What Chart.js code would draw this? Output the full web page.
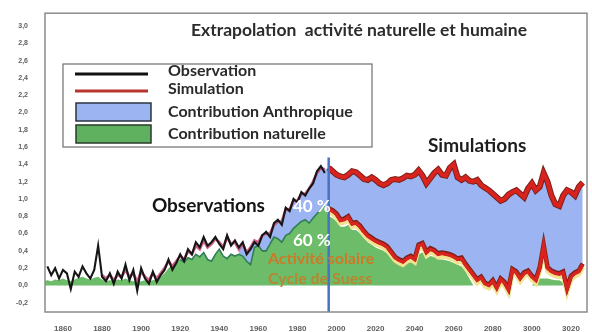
<!DOCTYPE html>
<html lang="fr">
<head>
<meta charset="utf-8">
<title>Extrapolation activité naturelle et humaine</title>
<script src="https://cdn.jsdelivr.net/npm/chart.js@4.4.0/dist/chart.umd.min.js"></script>
<style>
  html, body { margin: 0; padding: 0; background: #fff; }
  #wrap { width: 592px; height: 332px; }
</style>
</head>
<body>
<div id="wrap"><canvas id="climat"></canvas></div>
<script>
// Observations (anomalie de température)
const obsAnnees = [1852, 1854, 1856, 1858, 1860, 1862, 1864, 1866, 1868, 1870,
  1872, 1874, 1876, 1878, 1880, 1882, 1884, 1886, 1888, 1890,
  1892, 1894, 1896, 1898, 1900, 1902, 1904, 1906, 1908, 1910,
  1912, 1914, 1916, 1918, 1920, 1922, 1924, 1926, 1928, 1930,
  1932, 1934, 1936, 1938, 1940, 1942, 1944, 1946, 1948, 1950,
  1952, 1954, 1956, 1958, 1960, 1962, 1964, 1966, 1968, 1970,
  1972, 1974, 1976, 1978, 1980, 1982, 1984, 1986, 1988, 1990,
  1992, 1994]
const obsValeurs = [0.22, 0.12, 0.20, 0.08, 0.18, 0.14, -0.04, 0.16, 0.10, 0.22,
  0.14, 0.08, 0.18, 0.46, 0.10, 0.05, 0.14, 0.02, 0.16, 0.08,
  0.24, 0.06, 0.18, -0.06, 0.20, 0.08, 0.02, 0.16, 0.04, 0.12,
  0.18, 0.30, 0.18, 0.26, 0.36, 0.28, 0.42, 0.36, 0.50, 0.44,
  0.56, 0.46, 0.50, 0.56, 0.48, 0.42, 0.58, 0.46, 0.52, 0.44,
  0.50, 0.36, 0.42, 0.50, 0.46, 0.58, 0.62, 0.56, 0.72, 0.76,
  0.70, 0.90, 0.86, 1.00, 0.96, 1.08, 1.04, 1.12, 1.18, 1.32,
  1.38, 1.30]

// Contribution naturelle sur la période observée
const natAnnees = [1850, 1852, 1854, 1856, 1858, 1860, 1862, 1864, 1866, 1868,
  1870, 1872, 1874, 1876, 1878, 1880, 1882, 1884, 1886, 1888,
  1890, 1892, 1894, 1896, 1898, 1900, 1902, 1904, 1906, 1908,
  1910, 1912, 1914, 1916, 1918, 1920, 1922, 1924, 1926, 1928,
  1930, 1932, 1934, 1936, 1938, 1940, 1942, 1944, 1946, 1948,
  1950, 1952, 1954, 1956, 1958, 1960, 1962, 1964, 1966, 1968,
  1970, 1972, 1974, 1976, 1978, 1980, 1982, 1984, 1986, 1988,
  1990, 1992, 1994]
const natValeurs = [0.05, 0.06, 0.05, 0.07, 0.06, 0.08, 0.06, 0.05, 0.07, 0.09,
  0.10, 0.08, 0.07, 0.09, 0.10, 0.07, 0.05, 0.06, 0.05, 0.07,
  0.06, 0.08, 0.06, 0.05, 0.04, 0.05, 0.06, 0.05, 0.06, 0.07,
  0.10, 0.14, 0.20, 0.24, 0.28, 0.30, 0.27, 0.32, 0.30, 0.36,
  0.33, 0.38, 0.30, 0.28, 0.36, 0.42, 0.34, 0.31, 0.36, 0.34,
  0.36, 0.34, 0.28, 0.24, 0.44, 0.46, 0.40, 0.40, 0.48, 0.56,
  0.54, 0.50, 0.58, 0.60, 0.66, 0.70, 0.74, 0.76, 0.72, 0.78,
  0.83, 0.88, 0.92]

// Simulation rétrospective (naturel + anthropique)
const simAnnees = [1880, 1882, 1884, 1886, 1888, 1890, 1892, 1894, 1896, 1898,
  1900, 1902, 1904, 1906, 1908, 1910, 1912, 1914, 1916, 1918,
  1920, 1922, 1924, 1926, 1928, 1930, 1932, 1934, 1936, 1938,
  1940, 1942, 1944, 1946, 1948, 1950, 1952, 1954, 1956, 1958,
  1960, 1962, 1964, 1966, 1968, 1970, 1972, 1974, 1976, 1978,
  1980, 1982, 1984, 1986, 1988, 1990, 1992, 1994]
const simValeurs = [0.12, 0.08, 0.12, 0.06, 0.12, 0.10, 0.18, 0.10, 0.14, 0.04,
  0.16, 0.10, 0.06, 0.14, 0.08, 0.14, 0.20, 0.28, 0.22, 0.28,
  0.34, 0.30, 0.40, 0.36, 0.46, 0.42, 0.52, 0.44, 0.48, 0.54,
  0.50, 0.44, 0.56, 0.48, 0.50, 0.42, 0.48, 0.38, 0.44, 0.52,
  0.50, 0.58, 0.60, 0.60, 0.70, 0.74, 0.74, 0.88, 0.88, 0.98,
  0.98, 1.06, 1.06, 1.12, 1.20, 1.30, 1.36, 1.34]

// Projections : total simulé, part naturelle simulée, aire verte
const projAnnees = [1996, 1998, 2000, 2002, 2004, 2006, 2008, 2010, 2012, 2014,
  2016, 2018, 2020, 2022, 2024, 2026, 2028, 2030, 2032, 2034,
  2036, 2038, 2040, 2042, 2044, 2046, 2048, 2050, 2052, 2054,
  2056, 2058, 2060, 2062, 2064, 2066, 2068, 2070, 2072, 2074,
  2076, 2078, 2080, 2082, 2084, 2086, 2088, 2090, 2092, 2094,
  2096, 2098, 2100, 2102, 2104, 2106, 2108, 2110, 2112, 2114,
  2116, 2118, 2120, 2122, 2124, 2126]
const projTotal = [1.36, 1.32, 1.28, 1.26, 1.25, 1.28, 1.32, 1.31, 1.27, 1.23,
  1.22, 1.25, 1.22, 1.18, 1.16, 1.18, 1.22, 1.23, 1.22, 1.24,
  1.27, 1.26, 1.28, 1.33, 1.27, 1.18, 1.24, 1.30, 1.34, 1.28,
  1.27, 1.36, 1.40, 1.25, 1.22, 1.25, 1.21, 1.20, 1.22, 1.16,
  1.13, 1.10, 1.06, 1.02, 0.98, 1.00, 1.05, 1.08, 1.10, 1.06,
  1.02, 1.12, 1.18, 1.10, 1.14, 1.30, 1.20, 1.04, 0.94, 0.92,
  1.04, 1.10, 1.08, 1.04, 1.14, 1.19]
const projNaturel = [0.88, 0.86, 0.82, 0.75, 0.76, 0.79, 0.71, 0.72, 0.68, 0.62,
  0.57, 0.54, 0.51, 0.49, 0.47, 0.44, 0.38, 0.32, 0.29, 0.27,
  0.31, 0.33, 0.30, 0.46, 0.48, 0.38, 0.42, 0.40, 0.36, 0.37,
  0.36, 0.35, 0.33, 0.30, 0.31, 0.24, 0.18, 0.12, 0.06, 0.09,
  0.02, 0.00, 0.05, -0.03, 0.07, 0.03, -0.05, 0.18, 0.15, 0.08,
  0.14, 0.16, 0.10, 0.06, 0.20, 0.46, 0.20, 0.16, 0.14, 0.13,
  0.15, -0.04, 0.10, 0.14, 0.16, 0.24]
const projVert = [0.80, 0.78, 0.74, 0.68, 0.68, 0.70, 0.64, 0.64, 0.60, 0.55,
  0.50, 0.47, 0.44, 0.42, 0.40, 0.37, 0.32, 0.27, 0.24, 0.22,
  0.25, 0.27, 0.25, 0.36, 0.38, 0.31, 0.34, 0.33, 0.30, 0.30,
  0.29, 0.28, 0.26, 0.24, 0.22, 0.16, 0.08, 0, 0, 0,
  0, 0, 0, 0, 0, 0, 0, 0, 0, 0,
  0, 0, 0, 0.04, 0.08, 0.08, 0.08, 0.07, 0.06, 0.06,
  0.03, 0, 0, 0, 0, 0]

// Séparation observations / simulations
const separationAnnees = [1996, 1996]
const separationValeurs = [-0.31, 1.48]

// Axes
const xTicks = [1860, 1880, 1900, 1920, 1940, 1960, 1980, 2000, 2020, 2040, 2060, 2080, 2100, 2120]
const xLabels = ['1860', '1880', '1900', '1920', '1940', '1960', '1980', '2000', '2020', '2040', '2060', '2080', '3000', '3020']
const yTicks = [-0.2, 0, 0.2, 0.4, 0.6, 0.8, 1.0, 1.2, 1.4, 1.6, 1.8, 2.0, 2.2, 2.4, 2.6, 2.8, 3.0]

const DEBUT_BLEU = natAnnees.indexOf(1950)
const DEBUT_BLEU_SIM = simAnnees.indexOf(1950)
const DEBUT_LIGNE_VERTE = natAnnees.indexOf(1920)

function points(xs, ys) {
  return xs.map((x, i) => ({ x: x, y: ys[i] }))
}

const VERT = '#6dbc6a'
const BLEU = '#9db4f3'
const ROUGE = '#d9231e'
const BORDEAUX = '#7a2219'

// décale le tracé d'un dataset de quelques pixels (liserés)
const decalage = {
  id: 'decalage',
  beforeDatasetDraw(chart, args) {
    const d = chart.data.datasets[args.index].decalage
    if (d) {
      chart.ctx.save()
      chart.ctx.translate(0, d)
    }
  },
  afterDatasetDraw(chart, args) {
    if (chart.data.datasets[args.index].decalage) chart.ctx.restore()
  }
}

function texte(ctx, str, x, y, font, color, align) {
  ctx.font = font
  ctx.fillStyle = color
  ctx.textAlign = align || 'left'
  ctx.textBaseline = 'middle'
  ctx.fillText(str, x, y)
}

// cadre, titre, légende et annotations
const habillage = {
  id: 'habillage',
  afterDatasetsDraw(chart) {
    const { ctx, chartArea: a, scales: { x, y } } = chart
    ctx.save()

    ctx.strokeStyle = '#8c8c8c'
    ctx.lineWidth = 1.5
    ctx.strokeRect(a.left, a.top, a.right - a.left, a.bottom - a.top)

    texte(ctx, 'Observations', x.getPixelForValue(1905.5), y.getPixelForValue(0.92), 'bold 19px Lato', '#141414')
    texte(ctx, 'Simulations', x.getPixelForValue(2046.8), y.getPixelForValue(1.61), 'bold 19px Lato', '#1e1e1e')
    texte(ctx, '40 %', x.getPixelForValue(1987.4), y.getPixelForValue(0.91), 'bold 17px Lato', '#ffffff', 'center')
    texte(ctx, '60 %', x.getPixelForValue(1987.4), y.getPixelForValue(0.52), 'bold 17px Lato', '#ffffff', 'center')
    texte(ctx, 'Activité solaire', x.getPixelForValue(1964.9), y.getPixelForValue(0.31), 'bold 16px Lato', '#cc7a26')
    texte(ctx, 'Cycle de Suess', x.getPixelForValue(1964.9), y.getPixelForValue(0.08), 'bold 16px Lato', '#b8862e')

    texte(ctx, 'Extrapolation  activité naturelle et humaine', 359, 30, 'bold 17.5px Lato', '#2c2c2c', 'center')

    // légende
    ctx.fillStyle = '#ffffff'
    ctx.fillRect(63, 64, 309, 83)
    ctx.strokeStyle = '#6e6e6e'
    ctx.lineWidth = 1.2
    ctx.strokeRect(63, 64, 309, 83)

    ctx.lineWidth = 3
    ctx.strokeStyle = '#111111'
    ctx.beginPath(); ctx.moveTo(75, 74); ctx.lineTo(148, 74); ctx.stroke()
    ctx.strokeStyle = '#b8342e'
    ctx.beginPath(); ctx.moveTo(75, 91); ctx.lineTo(148, 91); ctx.stroke()

    ctx.lineWidth = 1.5
    ctx.strokeStyle = '#2b3440'
    ctx.fillStyle = BLEU
    ctx.fillRect(76, 103, 75, 18); ctx.strokeRect(76, 103, 75, 18)
    ctx.fillStyle = '#5fb160'
    ctx.strokeStyle = '#2b3a2b'
    ctx.fillRect(76, 125, 75, 18); ctx.strokeRect(76, 125, 75, 18)

    const f = 'bold 16px Lato'
    texte(ctx, 'Observation', 168, 71, f, '#2a2a2a')
    texte(ctx, 'Simulation', 168, 89, f, '#2a2a2a')
    texte(ctx, 'Contribution Anthropique', 168, 112, f, '#2a2a2a')
    texte(ctx, 'Contribution naturelle', 168, 134, f, '#2a2a2a')

    ctx.restore()
  }
}

const ligne = { pointRadius: 0, fill: false, tension: 0 }

new Chart(document.getElementById('climat'), {
  type: 'line',
  data: {
    datasets: [
      { ...ligne, label: 'Contribution naturelle', order: 20,
        data: points(natAnnees.concat(projAnnees), natValeurs.concat(projVert)),
        fill: 'origin', backgroundColor: VERT, borderWidth: 0, borderColor: 'transparent' },
      { ...ligne, label: 'naturel', order: 19,
        data: points(natAnnees.slice(DEBUT_BLEU).concat(projAnnees), natValeurs.slice(DEBUT_BLEU).concat(projNaturel)),
        borderWidth: 0, borderColor: 'transparent' },
      { ...ligne, label: 'Contribution Anthropique', order: 18,
        data: points(simAnnees.slice(DEBUT_BLEU_SIM).concat(projAnnees), simValeurs.slice(DEBUT_BLEU_SIM).concat(projTotal)),
        fill: 1, backgroundColor: BLEU, borderWidth: 0, borderColor: 'transparent' },
      { ...ligne, label: 'naturel observé', order: 12,
        data: points(natAnnees.slice(DEBUT_LIGNE_VERTE), natValeurs.slice(DEBUT_LIGNE_VERTE)),
        borderColor: '#2e7f55', borderWidth: 1.6 },
      { ...ligne, label: 'Simulation', order: 11,
        data: points(simAnnees, simValeurs),
        borderColor: 'rgba(196, 70, 110, 0.85)', borderWidth: 2.8 },
      { ...ligne, label: 'Observation', order: 10,
        data: points(obsAnnees, obsValeurs),
        borderColor: '#161616', borderWidth: 2.1 },
      { ...ligne, label: 'liseré jaune', order: 9, decalage: 2.5,
        data: points(projAnnees, projNaturel),
        borderColor: '#f1e28f', borderWidth: 5 },
      { ...ligne, label: 'liseré bas', order: 8, decalage: -1,
        data: points(projAnnees, projNaturel),
        borderColor: BORDEAUX, borderWidth: 4.5 },
      { ...ligne, label: 'naturel simulé', order: 7,
        data: points(projAnnees, projNaturel),
        borderColor: ROUGE, borderWidth: 3.4 },
      { ...ligne, label: 'liseré haut', order: 6,
        data: points(projAnnees, projTotal),
        borderColor: BORDEAUX, borderWidth: 6 },
      { ...ligne, label: 'total simulé', order: 5,
        data: points(projAnnees, projTotal),
        borderColor: ROUGE, borderWidth: 4 },
      { ...ligne, label: 'séparation', order: 1,
        data: points(separationAnnees, separationValeurs),
        borderColor: '#4a72c2', borderWidth: 2.5 }
    ]
  },
  options: {
    responsive: true,
    maintainAspectRatio: false,
    animation: false,
    devicePixelRatio: 1,
    layout: { padding: { top: 8, right: 5, left: 0, bottom: 0 } },
    plugins: {
      legend: { display: false },
      tooltip: { enabled: false },
      filler: { drawTime: 'beforeDatasetsDraw' }
    },
    scales: {
      x: {
        type: 'linear',
        min: 1850.8,
        max: 2128.2,
        grid: { display: false },
        border: { display: false },
        afterFit: s => { s.height = 20 },
        afterBuildTicks: s => { s.ticks = xTicks.map(v => ({ value: v })) },
        ticks: {
          padding: 4,
          autoSkip: false,
          maxRotation: 0,
          color: '#5e5e5e',
          font: { family: 'Liberation Sans', size: 8, weight: 'bold' },
          callback: (v) => xLabels[xTicks.indexOf(v)]
        }
      },
      y: {
        min: -0.307,
        max: 3.148,
        grid: { display: false },
        border: { display: false },
        afterFit: s => { s.width = 45 },
        afterBuildTicks: s => { s.ticks = yTicks.map(v => ({ value: v })) },
        ticks: {
          padding: 9,
          color: '#5e5e5e',
          font: { family: 'Liberation Sans', size: 7, weight: 'bold' },
          callback: v => v.toFixed(1).replace('.', ',')
        }
      }
    }
  },
  plugins: [decalage, habillage]
})
</script>
</body>
</html>
